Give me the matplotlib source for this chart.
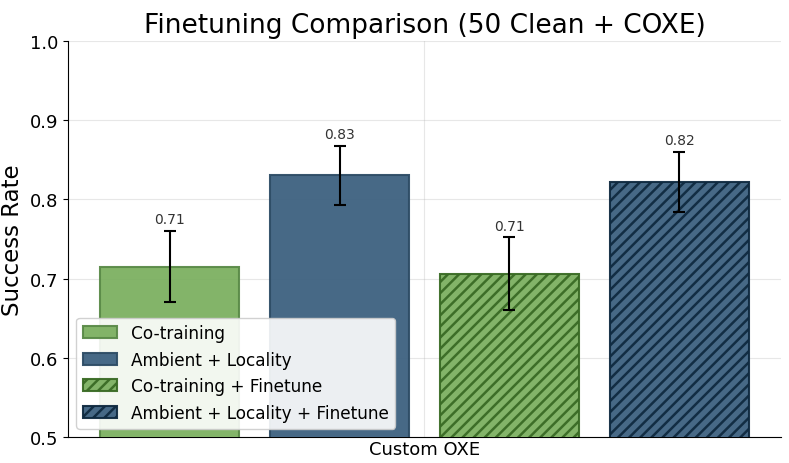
import matplotlib
matplotlib.use("Agg")
import matplotlib.pyplot as plt
import numpy as np

methods = ["Co-training", "Ambient + Locality", "Co-training + Finetune", "Ambient + Locality + Finetune"]
values = [0.715, 0.830, 0.706, 0.822]
errors = [0.045, 0.037, 0.046, 0.038]
category = "Custom OXE"

colors = ["#7cb061", "#3d6180", "#7cb061", "#3d6180"]
edges = ["#5a8a48", "#2e4d66", "#3a6b25", "#0f2a40"]
hatches = [None, None, "///", "///"]

plt.rcParams["hatch.linewidth"] = 1.8
fig, ax = plt.subplots(figsize=(7.89, 4.64), dpi=100)

spacing = 0.2
width = 0.164
offsets = (np.arange(len(methods)) - 1.5) * spacing
for i, (m, v, e) in enumerate(zip(methods, values, errors)):
    ax.bar(offsets[i], v, width, yerr=e, capsize=4, color=colors[i],
           edgecolor=edges[i], linewidth=1.5, hatch=hatches[i], label=m,
           alpha=0.95, error_kw=dict(elinewidth=1.5, capthick=1.5, ecolor="black"), zorder=3)
    ax.text(offsets[i], v + e + 0.006, f"{v:.2f}", ha="center", va="bottom",
            fontsize=10, color="#333333", zorder=4)

ax.set_ylim(0.5, 1.0)
ax.set_xticks([0])
ax.set_xticklabels([category], fontsize=13)
ax.tick_params(axis="x", length=0, pad=2)
ax.tick_params(axis="y", labelsize=13)
ax.set_ylabel("Success Rate", fontsize=16.5)
ax.set_title("Finetuning Comparison (50 Clean + COXE)", fontsize=19)
ax.grid(True, alpha=0.3, zorder=0)
ax.spines["top"].set_visible(False)
ax.spines["right"].set_visible(False)
ax.legend(loc="lower left", fontsize=12.2, framealpha=0.9)

fig.subplots_adjust(left=0.086, right=0.99, top=0.91, bottom=0.056)
fig.savefig("out.png", dpi=100)
